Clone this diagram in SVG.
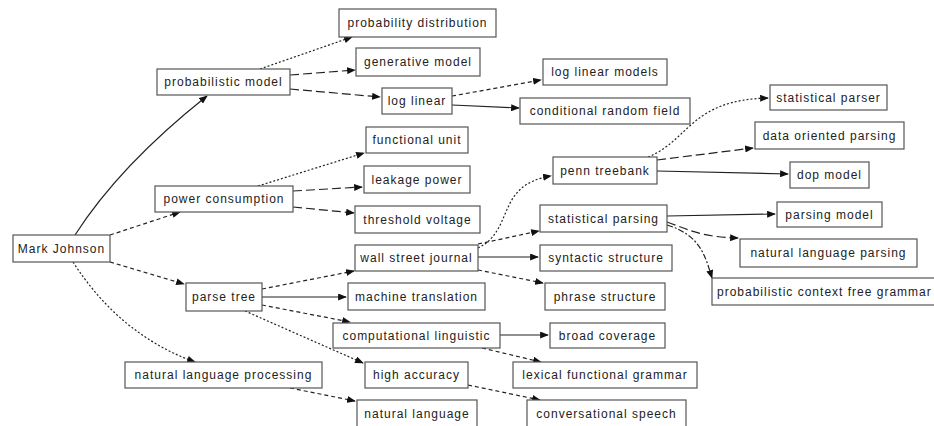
<svg xmlns="http://www.w3.org/2000/svg" width="934" height="426" viewBox="0 0 934 426">
<style>
.n rect{fill:#fff;stroke:#555;stroke-width:1.2}
.n text{font-family:"Liberation Sans",Arial,sans-serif;font-size:12px;letter-spacing:1px;fill:#222;text-anchor:middle}
.e path{fill:none;stroke:#222;stroke-width:1.2;marker-end:url(#ah)}
.dot{stroke-dasharray:2,2}
.dsh{stroke-dasharray:4,3}
.lng{stroke-dasharray:9,4}
.dd{stroke-dasharray:6,2,2,2}
</style>
<defs>
<marker id="ah" viewBox="0 0 10 8" refX="9" refY="4" markerWidth="9" markerHeight="7" markerUnits="userSpaceOnUse" orient="auto">
<path d="M0,0 L10,4 L0,8 z" fill="#111"/>
</marker>
</defs>
<rect width="934" height="426" fill="#fff"/>
<g class="e" id="connectors">
<path d="M75,235 Q120,165 207,96" stroke="#666" stroke-width="1"/>
<path class="dsh" d="M110,235 L180,212"/>
<path class="dsh" d="M110,262 L184,284"/>
<path class="dot" d="M73,262 Q120,335 195,362"/>
<path class="dot" d="M260,69 L352,37"/>
<path class="lng" d="M290,75 L355,70"/>
<path class="lng" d="M290,89 L380,97"/>
<path class="dsh" d="M452,96 L541,80"/>
<path d="M452,105 L519,108"/>
<path class="dot" d="M258,186 L364,153"/>
<path class="lng" d="M293,191 L362,187"/>
<path class="lng" d="M293,207 L354,213"/>
<path class="dsh" d="M262,289 L354,271"/>
<path d="M262,297 L346,297"/>
<path class="dsh" d="M262,305 L350,322"/>
<path class="dot" d="M245,311 L363,363"/>
<path class="dsh" d="M290,388 L355,401"/>
<path class="dot" d="M478,248 C515,230 495,185 551,176"/>
<path class="dsh" d="M478,244 L539,231"/>
<path d="M478,257 L538,257"/>
<path class="dsh" d="M478,270 L543,283"/>
<path d="M500,335 L548,335" stroke="#999"/>
<path class="dsh" d="M482,348 L541,362"/>
<path class="dsh" d="M468,385 L540,400"/>
<path class="dot" d="M648,157 C690,140 690,100 768,98"/>
<path class="lng" d="M657,160 L753,148"/>
<path d="M657,171 L788,174"/>
<path d="M667,216 L775,214"/>
<path class="lng" d="M667,222 C690,230 700,237 738,238"/>
<path class="dd" d="M667,225 C700,235 705,255 712,278"/>
</g>
<g class="n" id="mark-johnson"><rect x="13" y="235" width="97" height="27"/><text x="61.5" y="252.5">Mark Johnson</text></g>
<g class="n" id="probabilistic-model"><rect x="157" y="69" width="133" height="26"/><text x="223.5" y="86">probabilistic model</text></g>
<g class="n" id="power-consumption"><rect x="155" y="186" width="138" height="26"/><text x="224" y="203">power consumption</text></g>
<g class="n" id="parse-tree"><rect x="186" y="283" width="76" height="28"/><text x="224" y="301">parse tree</text></g>
<g class="n" id="natural-language-processing"><rect x="125" y="362" width="197" height="26"/><text x="223.5" y="379">natural language processing</text></g>
<g class="n" id="probability-distribution"><rect x="339" y="9" width="157" height="28"/><text x="417.5" y="27">probability distribution</text></g>
<g class="n" id="generative-model"><rect x="356" y="48" width="124" height="28"/><text x="418" y="66">generative model</text></g>
<g class="n" id="log-linear"><rect x="382" y="88" width="70" height="26"/><text x="417" y="105">log linear</text></g>
<g class="n" id="log-linear-models"><rect x="543" y="59" width="124" height="26"/><text x="605" y="76">log linear models</text></g>
<g class="n" id="conditional-random-field"><rect x="520" y="98" width="170" height="26"/><text x="605" y="115">conditional random field</text></g>
<g class="n" id="functional-unit"><rect x="366" y="127" width="102" height="26"/><text x="417" y="144">functional unit</text></g>
<g class="n" id="leakage-power"><rect x="364" y="166" width="106" height="27"/><text x="417" y="183.5">leakage power</text></g>
<g class="n" id="threshold-voltage"><rect x="355" y="206" width="125" height="27"/><text x="417.5" y="223.5">threshold voltage</text></g>
<g class="n" id="penn-treebank"><rect x="553" y="157" width="104" height="27"/><text x="605" y="174.5">penn treebank</text></g>
<g class="n" id="statistical-parsing"><rect x="540" y="205" width="127" height="27"/><text x="603.5" y="222.5">statistical parsing</text></g>
<g class="n" id="wall-street-journal"><rect x="355" y="245" width="123" height="26"/><text x="416.5" y="262">wall street journal</text></g>
<g class="n" id="machine-translation"><rect x="348" y="283" width="137" height="27"/><text x="416.5" y="300.5">machine translation</text></g>
<g class="n" id="computational-linguistic"><rect x="333" y="323" width="167" height="25"/><text x="416.5" y="339.5">computational linguistic</text></g>
<g class="n" id="high-accuracy"><rect x="365" y="362" width="103" height="26"/><text x="416.5" y="379">high accuracy</text></g>
<g class="n" id="natural-language"><rect x="357" y="400" width="120" height="30"/><text x="417" y="418">natural language</text></g>
<g class="n" id="syntactic-structure"><rect x="540" y="245" width="132" height="26"/><text x="606" y="262">syntactic structure</text></g>
<g class="n" id="phrase-structure"><rect x="545" y="283" width="120" height="27"/><text x="605" y="300.5">phrase structure</text></g>
<g class="n" id="broad-coverage"><rect x="550" y="323" width="115" height="25"/><text x="607.5" y="339.5">broad coverage</text></g>
<g class="n" id="lexical-functional-grammar"><rect x="513" y="362" width="184" height="26"/><text x="605" y="379">lexical functional grammar</text></g>
<g class="n" id="conversational-speech"><rect x="527" y="400" width="159" height="30"/><text x="606.5" y="418">conversational speech</text></g>
<g class="n" id="statistical-parser"><rect x="770" y="85" width="117" height="25"/><text x="828.5" y="101.5">statistical parser</text></g>
<g class="n" id="data-oriented-parsing"><rect x="755" y="122" width="149" height="27"/><text x="829.5" y="139.5">data oriented parsing</text></g>
<g class="n" id="dop-model"><rect x="790" y="162" width="79" height="26"/><text x="829.5" y="179">dop model</text></g>
<g class="n" id="parsing-model"><rect x="777" y="202" width="105" height="25"/><text x="829.5" y="218.5">parsing model</text></g>
<g class="n" id="natural-language-parsing"><rect x="740" y="239" width="177" height="28"/><text x="828.5" y="257">natural language parsing</text></g>
<g class="n" id="probabilistic-context-free-grammar"><rect x="712" y="278" width="240" height="27"/><text x="717" y="295.5" style="text-anchor:start">probabilistic context free grammar</text></g>
</svg>
